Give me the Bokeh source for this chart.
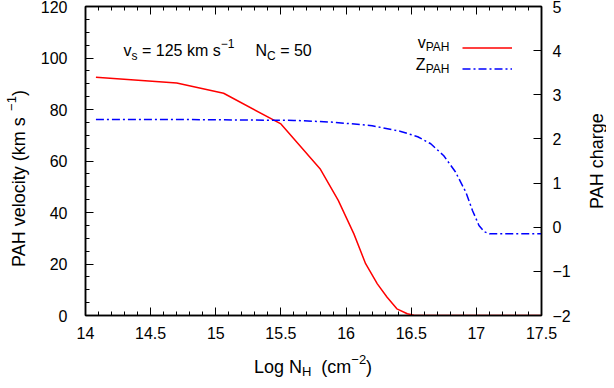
import math
from bokeh.plotting import figure
from bokeh.layouts import row, column
from bokeh.models import (Range1d, LinearAxis, SingleIntervalTicker, Label, Legend,
                          LegendItem, CustomJSTickFormatter)
from bokeh.embed import file_html
from bokeh.resources import INLINE

# ---- data ----
log_nh_v = [14.08, 14.70, 15.06, 15.50, 15.80, 15.94, 16.06, 16.15, 16.24, 16.315, 16.39, 16.47, 16.52, 16.6, 17.0, 17.5]
v_pah = [92.5, 90.3, 86.3, 74.4, 57.0, 44.7, 31.7, 20.1, 12.3, 7.1, 2.6, 0.7, 0.1, 0.0, 0.0, 0.0]

log_nh_z = [14.08, 14.7, 15.2, 15.6, 15.9, 16.2, 16.42, 16.55, 16.65, 16.75, 16.84, 16.92, 16.97, 17.02, 17.06, 17.1, 17.5]
z_pah = [2.44, 2.44, 2.43, 2.42, 2.38, 2.30, 2.17, 2.05, 1.89, 1.62, 1.25, 0.79, 0.38, 0.04, -0.10, -0.15, -0.15]

x_range = (14, 17.5)
v_range = (0, 120)
z_range = (-2, 5)

FONT = "Liberation Sans"

W = {' ': 278, '(': 333, ')': 333, '\u2212': 584, '=': 584, '.': 278,
     'A': 667, 'C': 722, 'H': 722, 'L': 556, 'N': 722, 'P': 667, 'Z': 611,
     'a': 556, 'c': 500, 'e': 556, 'g': 556, 'h': 556, 'i': 222, 'k': 500, 'l': 222,
     'm': 833, 'o': 556, 'r': 333, 's': 500, 't': 278, 'v': 500, 'y': 500}


def tw(s, size):
    return sum(W.get(c, 556) for c in s) * size / 1000.0


def rich(fig, x, y, pieces, align="left", angle=0.0, y_range_name="default", units="data"):
    total = sum(tw(t, s) for t, s, _ in pieces)
    adv = {"left": 0.0, "center": -total / 2, "right": -total}[align]
    for text, size, shift in pieces:
        lead = len(text) - len(text.lstrip(" "))
        a = adv + tw(" " * lead, size)
        body = text.strip(" ")
        if body:
            if angle == 0:
                xo, yo = a, shift
            else:
                xo, yo = -shift, a
            fig.add_layout(Label(x=x, y=y, x_offset=xo, y_offset=yo, text=body, angle=angle,
                                 x_units=units, y_units=units,
                                 text_font=FONT, text_font_size=f"{size}px", text_color="black",
                                 text_baseline="alphabetic", text_align="left",
                                 y_range_name=y_range_name))
        adv += tw(text, size)


def blank(w, h):
    f = figure(width=w, height=h, output_backend="svg", toolbar_location=None,
               x_range=Range1d(0, w), y_range=Range1d(0, h),
               x_axis_type=None, y_axis_type=None, min_border=0)
    f.xgrid.visible = False
    f.ygrid.visible = False
    f.outline_line_color = None
    f.border_fill_color = "white"
    f.background_fill_color = "white"
    return f


p = figure(width=546, height=346, output_backend="svg", toolbar_location=None,
           x_range=Range1d(*x_range), y_range=Range1d(*v_range))
p.min_border_left = 55
p.min_border_right = 35
p.min_border_top = 6
p.min_border_bottom = 31
p.extra_y_ranges = {"charge": Range1d(*z_range)}
p.xgrid.visible = False
p.ygrid.visible = False
p.outline_line_color = "black"
p.outline_line_width = 1.5
p.background_fill_color = "white"
p.border_fill_color = "white"

fmt_x = CustomJSTickFormatter(code="return String(Math.round(tick*10)/10);")
fmt_minus = CustomJSTickFormatter(code="return String(tick).replace('-', '\u2212');")
fmt_none = CustomJSTickFormatter(code="return '';")


def style_axis(ax, standoff):
    ax.axis_line_color = "black"
    ax.axis_line_width = 1.5
    ax.major_tick_line_color = "black"
    ax.minor_tick_line_color = "black"
    ax.major_tick_line_width = 1
    ax.minor_tick_line_width = 1
    ax.major_tick_in = 8
    ax.major_tick_out = 0
    ax.minor_tick_in = 4
    ax.minor_tick_out = 0
    ax.major_label_text_font = FONT
    ax.major_label_text_font_size = "16px"
    ax.major_label_text_color = "black"
    ax.major_label_standoff = standoff


xa = p.xaxis[0]
xa.ticker = SingleIntervalTicker(interval=0.5, num_minor_ticks=5)
xa.formatter = fmt_x
style_axis(xa, 11)

ya = p.yaxis[0]
ya.ticker = SingleIntervalTicker(interval=20, num_minor_ticks=4)
style_axis(ya, 18)

top = LinearAxis(ticker=SingleIntervalTicker(interval=0.5, num_minor_ticks=5), formatter=fmt_none)
style_axis(top, 0)
p.add_layout(top, "above")

right = LinearAxis(y_range_name="charge", ticker=SingleIntervalTicker(interval=1, num_minor_ticks=0),
                   formatter=fmt_minus)
style_axis(right, 11)
p.add_layout(right, "right")

r_v = p.line(log_nh_v, v_pah, line_color="#ff0000", line_width=1.5)
r_z = p.line(log_nh_z, z_pah, y_range_name="charge", line_color="#0000ff",
             line_width=1.5, line_dash="8 3 2 3")

legend = Legend(items=[LegendItem(label=" ", renderers=[r_v]), LegendItem(label=" ", renderers=[r_z])],
                location=(377, 236), orientation="vertical", padding=0, margin=0, spacing=0,
                glyph_width=50, glyph_height=21, label_height=21, label_width=0, label_standoff=0,
                border_line_color=None, background_fill_alpha=0, label_text_font_size="16px")
p.add_layout(legend, "center")

rich(p, 14.292, 102.9, [("v", 16, 0), ("s", 12, -5), (" = 125 km s", 16, 0), ("\u22121", 12, 7)])
rich(p, 15.305, 102.9, [("N", 16, 0), ("C", 12, -5), (" = 50", 16, 0)])
rich(p, 16.80, 106.1, [("v", 16, 0), ("PAH", 12, -5)], align="right")
rich(p, 16.80, 97.5, [("Z", 16, 0), ("PAH", 12, -5)], align="right")

# axis titles in side strips, placed in canvas pixels
left_fig = blank(30, 346)
rich(left_fig, 18, 178, [("PAH velocity  (km s", 18, 0), ("\u22121", 13, 7), (")", 18, 0)],
     align="center", angle=math.pi / 2, units="canvas")

right_fig = blank(30, 346)
rich(right_fig, 20, 160, [("PAH charge", 18, 0)], align="center", angle=math.pi / 2, units="canvas")

bottom_fig = blank(606, 34)
rich(bottom_fig, 312.5, 20, [("Log N", 18, 0), ("H", 13, -5), ("  (cm", 18, 0), ("\u22122", 13, 7), (")", 18, 0)],
     align="center", units="canvas")

layout = column(row(left_fig, p, right_fig, spacing=0), bottom_fig, spacing=0)

open("out.html", "w").write(file_html(layout, INLINE))
